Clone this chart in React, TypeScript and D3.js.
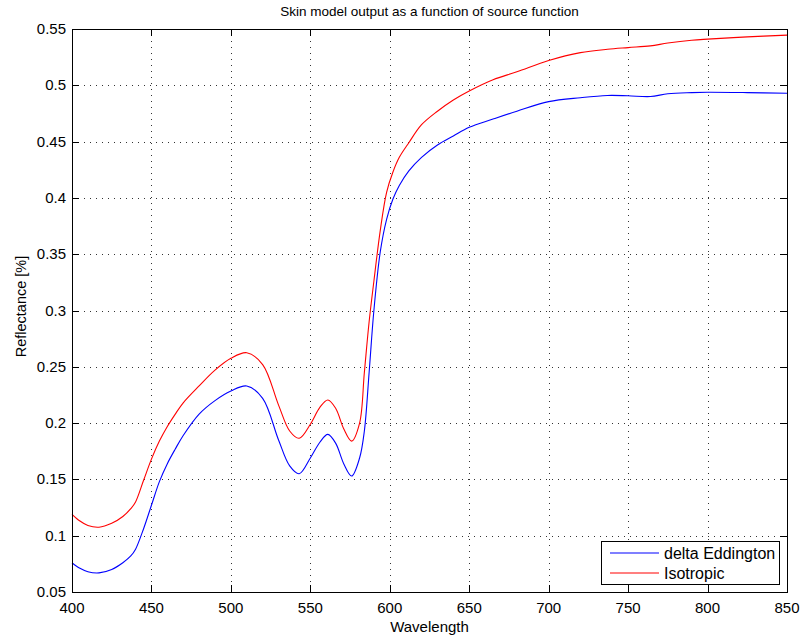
import React from "react";
import * as d3 from "d3";

// Wavelength samples (nm)
const wavelengths = [
  400, 405, 410, 417, 425, 432, 437, 440, 445, 450, 455, 460, 465, 470, 480,
  490, 500, 510, 520, 530, 537, 543, 550, 556, 561, 566, 571, 576, 581, 584,
  587, 590, 594, 598, 602, 606, 612, 620, 630, 640, 650, 665, 680, 700, 720,
  737, 750, 764, 775, 790, 800, 825, 850,
];

// Reflectance, delta-Eddington source function
const deltaEddington = [
  0.076, 0.071, 0.068, 0.067, 0.07, 0.076, 0.082, 0.088, 0.106, 0.127, 0.148,
  0.164, 0.177, 0.189, 0.208, 0.22, 0.2285, 0.233, 0.222, 0.185, 0.162, 0.155,
  0.169, 0.183, 0.19, 0.182, 0.164, 0.153, 0.169, 0.193, 0.245, 0.3, 0.352,
  0.381, 0.399, 0.411, 0.424, 0.436, 0.447, 0.455, 0.4627, 0.47, 0.477, 0.4855,
  0.489, 0.491, 0.4907, 0.49, 0.4925, 0.4935, 0.4938, 0.4935, 0.4929,
];

// Reflectance, isotropic source function
const isotropic = [
  0.119, 0.113, 0.109, 0.1075, 0.111, 0.117, 0.124, 0.13, 0.149, 0.168, 0.184,
  0.197, 0.208, 0.218, 0.233, 0.247, 0.2575, 0.2625, 0.252, 0.216, 0.193,
  0.1865, 0.199, 0.214, 0.2205, 0.213, 0.195, 0.184, 0.2, 0.245, 0.29, 0.326,
  0.371, 0.405, 0.423, 0.436, 0.449, 0.465, 0.477, 0.487, 0.495, 0.505, 0.512,
  0.522, 0.529, 0.532, 0.5335, 0.535, 0.5375, 0.54, 0.541, 0.543, 0.5446,
];

const xTicks = [400, 450, 500, 550, 600, 650, 700, 750, 800, 850];
const yTicks = [0.05, 0.1, 0.15, 0.2, 0.25, 0.3, 0.35, 0.4, 0.45, 0.5, 0.55];

const seriesNames = ["delta Eddington", "Isotropic"];
const seriesColors = ["#0000ff", "#ff0000"];

const W = 802;
const H = 641;
const left = 72;
const right = 787;
const top = 29;
const bottom = 592;
const tickLen = 7;
const font = "'Liberation Sans', Arial, Helvetica, sans-serif";

export default function App() {
  const x = d3.scaleLinear().domain([400, 850]).range([left, right]);
  const y = d3.scaleLinear().domain([0.05, 0.55]).range([bottom, top]);

  const line = d3
    .line<number>()
    .x((_, i) => x(wavelengths[i]))
    .y((v) => y(v))
    .curve(d3.curveCatmullRom.alpha(0.5));

  const series = [deltaEddington, isotropic];

  return (
    <svg
      width={W}
      height={H}
      style={{ position: "absolute", left: 0, top: 0, background: "#fff" }}
      fontFamily={font}
    >
      <rect x={0} y={0} width={W} height={H} fill="#fff" />
      {/* grid */}
      <g stroke="#333" strokeWidth={1} strokeDasharray="1,5">
        {xTicks.slice(1, -1).map((t) => (
          <line key={"gx" + t} x1={Math.round(x(t)) + 0.5} x2={Math.round(x(t)) + 0.5} y1={top} y2={bottom} />
        ))}
        {yTicks.slice(1, -1).map((t) => (
          <line key={"gy" + t} y1={Math.round(y(t)) + 0.5} y2={Math.round(y(t)) + 0.5} x1={left} x2={right} />
        ))}
      </g>
      {/* ticks */}
      <g stroke="#000" strokeWidth={1}>
        {xTicks.map((t) => {
          const px = Math.round(x(t)) + 0.5;
          return (
            <g key={"tx" + t}>
              <line x1={px} x2={px} y1={bottom} y2={bottom - tickLen} />
              <line x1={px} x2={px} y1={top} y2={top + tickLen} />
            </g>
          );
        })}
        {yTicks.map((t) => {
          const py = Math.round(y(t)) + 0.5;
          return (
            <g key={"ty" + t}>
              <line x1={left} x2={left + tickLen} y1={py} y2={py} />
              <line x1={right} x2={right - tickLen} y1={py} y2={py} />
            </g>
          );
        })}
      </g>
      {/* curves */}
      {series.map((s, i) => (
        <path key={seriesNames[i]} d={line(s) ?? ""} fill="none" stroke={seriesColors[i]} strokeWidth={1.1} />
      ))}
      {/* frame */}
      <rect x={left + 0.5} y={top + 0.5} width={right - left} height={bottom - top} fill="none" stroke="#000" strokeWidth={1} />
      {/* tick labels */}
      <g fontSize={15} fill="#000">
        {xTicks.map((t) => (
          <text key={"lx" + t} x={x(t)} y={613} textAnchor="middle">
            {t}
          </text>
        ))}
        {yTicks.map((t) => (
          <text key={"ly" + t} x={66} y={y(t) + 5} textAnchor="end">
            {d3.format("")(+t.toFixed(2))}
          </text>
        ))}
      </g>
      {/* title and axis labels */}
      <text x={(left + right) / 2} y={16} textAnchor="middle" fontSize={13.5}>
        Skin model output as a function of source function
      </text>
      <text x={(left + right) / 2} y={632} textAnchor="middle" fontSize={15}>
        Wavelength
      </text>
      <text
        transform={`translate(26, ${(top + bottom) / 2 - 4}) rotate(-90)`}
        textAnchor="middle"
        fontSize={14.5}
      >
        Reflectance [%]
      </text>
      {/* legend */}
      <g>
        <rect x={601.5} y={541.5} width={178} height={43} fill="#fff" stroke="#000" strokeWidth={1} />
        {seriesNames.map((n, i) => (
          <g key={"lg" + n}>
            <line x1={610} x2={659} y1={553 + i * 20} y2={553 + i * 20} stroke={seriesColors[i]} strokeWidth={1.1} />
            <text x={664} y={558.5 + i * 20} fontSize={16}>
              {n}
            </text>
          </g>
        ))}
      </g>
    </svg>
  );
}
